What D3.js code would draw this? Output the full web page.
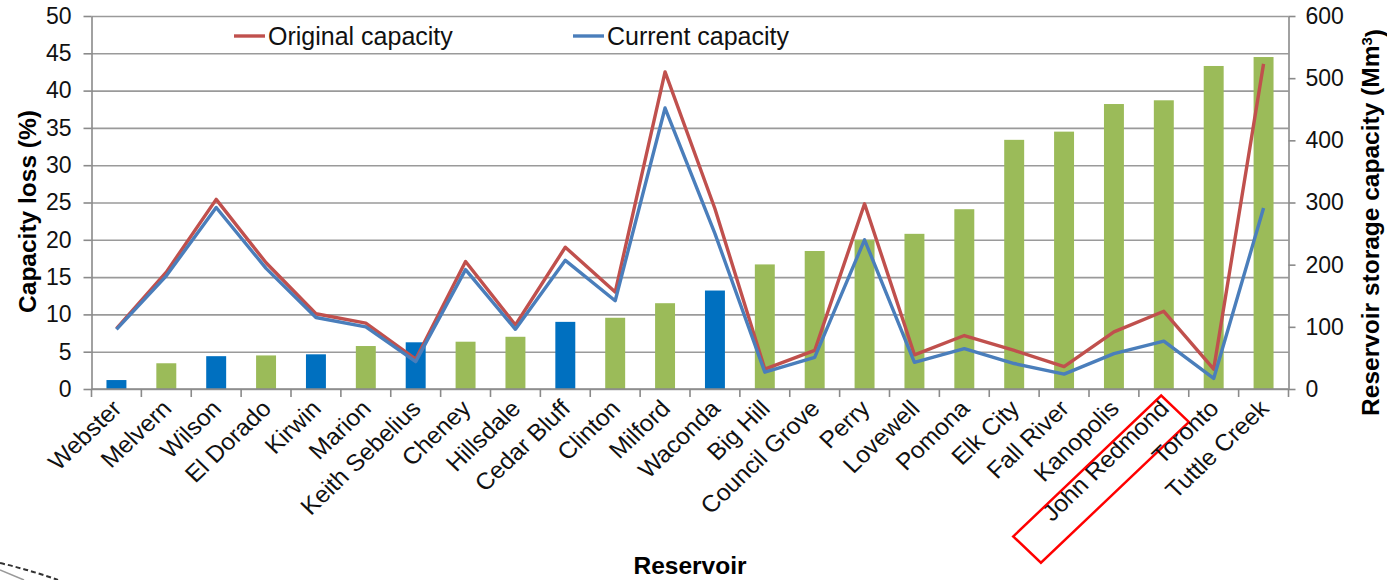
<!DOCTYPE html>
<html>
<head>
<meta charset="utf-8">
<script src="https://cdn.jsdelivr.net/npm/d3@7/dist/d3.min.js"></script>
<style>
  html, body { margin: 0; padding: 0; background: #fff; }
  svg { display: block; font-family: "Liberation Sans", Arial, sans-serif; }
</style>
</head>
<body>
<svg id="chart" width="1387" height="580"></svg>
<script>
// Reservoirs, ordered by capacity loss
const reservoirs = ["Webster", "Melvern", "Wilson", "El Dorado", "Kirwin", "Marion",
  "Keith Sebelius", "Cheney", "Hillsdale", "Cedar Bluff", "Clinton", "Milford",
  "Waconda", "Big Hill", "Council Grove", "Perry", "Lovewell", "Pomona", "Elk City",
  "Fall River", "Kanopolis", "John Redmond", "Toronto", "Tuttle Creek"];

// Capacity loss (%), left axis
const capacityLoss = [1.2, 3.45, 4.4, 4.5, 4.65, 5.76, 6.26, 6.34, 7.0, 9.0, 9.55, 11.5,
  13.2, 16.7, 18.5, 20.0, 20.8, 24.1, 33.4, 34.5, 38.2, 38.7, 43.3, 44.5];

// Bars drawn in the darker blue (the rest are green)
const blueBars = ["Webster", "Wilson", "Kirwin", "Keith Sebelius", "Cedar Bluff", "Waconda"];

// Storage capacity (Mm3), right axis
const originalCapacity = [97, 188, 305, 203, 121, 106, 48, 205, 103, 228, 156, 510,
  290, 32, 62, 298, 55, 86, 62, 36, 92, 125, 32, 523];
const currentCapacity = [96, 182, 292, 194, 115, 100, 44, 192, 96, 207, 142, 452,
  250, 27, 51, 240, 43, 65, 41, 24, 57, 77, 17, 291];

const lossTicks = [0, 5, 10, 15, 20, 25, 30, 35, 40, 45, 50];
const storageTicks = [0, 100, 200, 300, 400, 500, 600];

const svg = d3.select("#chart");
const plotLeft = 91.5, plotRight = 1288.5, plotTop = 16, plotBottom = 389;

const x = d3.scaleBand().domain(reservoirs).range([plotLeft, plotRight]).padding(0);
const yL = d3.scaleLinear().domain([0, 50]).range([plotBottom, plotTop]);
const yR = d3.scaleLinear().domain([0, 600]).range([plotBottom, plotTop]);

const axisColor = "#8a8a8a";
const fontTick = 23;

// horizontal gridlines
const grid = svg.append("g").attr("transform", `translate(${plotLeft},0)`)
  .call(d3.axisLeft(yL).tickValues(lossTicks).tickSize(-(plotRight - plotLeft)).tickFormat(""));
grid.select(".domain").remove();
grid.selectAll("line").attr("stroke", "#9a9a9a").attr("stroke-width", 1.6);

// bars: capacity loss
const barW = x.bandwidth() / 2.5;
svg.append("g").selectAll("rect")
  .data(reservoirs.map((r, i) => ({ r, v: capacityLoss[i] })))
  .join("rect")
  .attr("x", d => x(d.r) + (x.bandwidth() - barW) / 2)
  .attr("width", barW)
  .attr("y", d => yL(d.v))
  .attr("height", d => yL(0) - yL(d.v))
  .attr("fill", d => blueBars.includes(d.r) ? "#0070C0" : "#9BBB59");

// lines: storage capacity
const line = d3.line()
  .x((d, i) => x(reservoirs[i]) + x.bandwidth() / 2)
  .y(d => yR(d));
svg.append("path").datum(originalCapacity)
  .attr("d", line).attr("fill", "none")
  .attr("stroke", "#C0504D").attr("stroke-width", 3.4).attr("stroke-linejoin", "round");
svg.append("path").datum(currentCapacity)
  .attr("d", line).attr("fill", "none")
  .attr("stroke", "#4A7EBB").attr("stroke-width", 3.4).attr("stroke-linejoin", "round");

// left axis
const gL = svg.append("g").attr("transform", `translate(${plotLeft},0)`)
  .call(d3.axisLeft(yL).tickValues(lossTicks).tickSize(8).tickPadding(12).tickSizeOuter(0));
gL.select(".domain").attr("stroke", axisColor).attr("stroke-width", 1.6);
gL.selectAll(".tick line").attr("stroke", axisColor).attr("stroke-width", 1.6);
gL.selectAll(".tick text").attr("font-size", fontTick).attr("fill", "#111")
  .attr("font-family", "Liberation Sans, Arial, sans-serif");

// right axis
const gR = svg.append("g").attr("transform", `translate(${plotRight},0)`)
  .call(d3.axisRight(yR).tickValues(storageTicks).tickSize(7).tickPadding(10).tickSizeOuter(0));
gR.select(".domain").attr("stroke", axisColor).attr("stroke-width", 1.6);
gR.selectAll(".tick line").attr("stroke", axisColor).attr("stroke-width", 1.6);
gR.selectAll(".tick text").attr("font-size", fontTick).attr("fill", "#111")
  .attr("font-family", "Liberation Sans, Arial, sans-serif");

// bottom axis line and tick marks between categories
const gB = svg.append("g");
gB.append("line").attr("x1", plotLeft).attr("x2", plotRight).attr("y1", plotBottom).attr("y2", plotBottom)
  .attr("stroke", axisColor).attr("stroke-width", 1.6);
const boundaries = reservoirs.map(r => x(r)).concat([x.range()[1]]);
gB.selectAll("line.tk").data(boundaries).join("line").attr("class", "tk")
  .attr("x1", d => d).attr("x2", d => d).attr("y1", plotBottom).attr("y2", plotBottom + 8)
  .attr("stroke", axisColor).attr("stroke-width", 1.6);

// rotated category labels (slightly widened, as in the original figure)
const labels = gB.selectAll("g.lbl").data(reservoirs).join("g").attr("class", "lbl")
  .attr("transform", d => `translate(${x(d) + x.bandwidth() / 2 - 7},${plotBottom + 8}) scale(1.05,1) rotate(-45)`);
labels.append("text")
  .attr("text-anchor", "end")
  .attr("dy", "0.78em")
  .attr("font-size", 23.5)
  .attr("fill", "#111")
  .text(d => d);

// highlight box around John Redmond
labels.filter(d => d === "John Redmond").each(function () {
  const g = d3.select(this);
  const bb = g.select("text").node().getBBox();
  g.append("rect")
    .attr("x", bb.x - 36).attr("y", bb.y + 5)
    .attr("width", bb.width + 40).attr("height", bb.height + 11)
    .attr("fill", "none").attr("stroke", "#FF0000").attr("stroke-width", 2.4);
});

// axis titles
svg.append("text")
  .attr("transform", `translate(36,${(plotTop + plotBottom) / 2 + 9}) rotate(-90)`)
  .attr("text-anchor", "middle").attr("font-size", 24.5).attr("font-weight", "bold")
  .text("Capacity loss (%)");
const rt = svg.append("text")
  .attr("transform", `translate(1379,${(plotTop + plotBottom) / 2 + 20}) rotate(-90)`)
  .attr("text-anchor", "middle").attr("font-size", 24.5).attr("font-weight", "bold");
rt.append("tspan").text("Reservoir storage capacity (Mm");
rt.append("tspan").attr("dy", "-0.45em").attr("font-size", 15).text("3");
rt.append("tspan").attr("dy", "0.45em").text(")");
svg.append("text")
  .attr("x", (plotLeft + plotRight) / 2).attr("y", 574)
  .attr("text-anchor", "middle").attr("font-size", 24.5).attr("font-weight", "bold")
  .text("Reservoir");

// legend
const legend = [
  { name: "Original capacity", color: "#C0504D", x: 234 },
  { name: "Current capacity", color: "#4A7EBB", x: 573 }
];
const lg = svg.append("g").selectAll("g").data(legend).join("g")
  .attr("transform", d => `translate(${d.x},36)`);
lg.append("rect").attr("x", -2).attr("y", -16).attr("width", 230).attr("height", 32).attr("fill", "#fff");
lg.append("line").attr("x1", 0).attr("x2", 31).attr("y1", 0).attr("y2", 0)
  .attr("stroke", d => d.color).attr("stroke-width", 3.4);
lg.append("text").attr("x", 34).attr("dy", "0.36em").attr("font-size", 25).attr("fill", "#111")
  .text(d => d.name);

// page-corner decoration at lower left
svg.append("path").attr("d", "M0,563 Q30,570 58,580")
  .attr("fill", "none").attr("stroke", "#333").attr("stroke-width", 2).attr("stroke-dasharray", "5,3");
svg.append("path").attr("d", "M0,570 L24,580")
  .attr("fill", "none").attr("stroke", "#999").attr("stroke-width", 1.5);
</script>
</body>
</html>
